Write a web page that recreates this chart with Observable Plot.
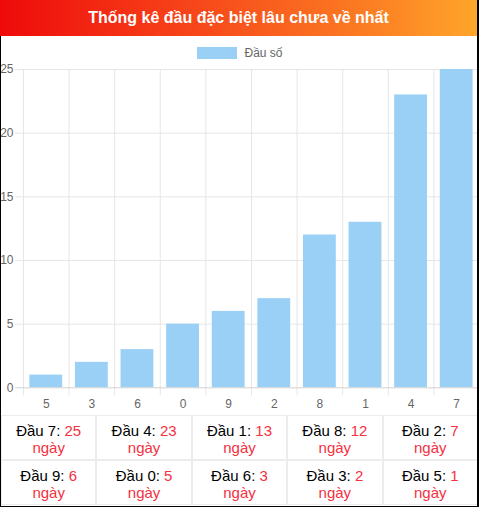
<!DOCTYPE html>
<html>
<head>
<meta charset="utf-8">
<script src="https://cdn.jsdelivr.net/npm/d3@7"></script>
<script src="https://cdn.jsdelivr.net/npm/@observablehq/plot@0.6"></script>
<style>
  body { margin: 0; font-family: "Liberation Sans", Arial, sans-serif; background: #fff; }
  #wrap { position: relative; width: 479px; height: 507px; overflow: hidden; }
  #head {
    width: 477px; height: 36px; line-height: 36px; text-align: center;
    color: #fff; font-weight: bold; font-size: 16px;
    background: linear-gradient(to right, #ee0a0a, #f7451a 40%, #fb7a22 75%, #ffa52a);
  }
  #rightbar { position: absolute; right: 0; top: 0; width: 2px; height: 507px; background: #000; z-index: 5; }
  #box { border-left: 1px solid #000; border-bottom: 1px solid #000; height: 470px; overflow: hidden; }
  #legend { height: 26px; display: flex; justify-content: center; align-items: flex-start; }
  #legend .sw { width: 40px; height: 12px; background: #9ad0f5; margin-top: 11px; margin-right: 7px; }
  #legend .lb { font-size: 12px; color: #666; margin-top: 10px; line-height: 14px; }
  #chart svg { display: block; }
  table { border-collapse: separate; border-spacing: 0; width: 477px; }
  td { border: 1px solid #ececec; text-align: center; font-size: 15px; line-height: 17px; height: 40px; padding: 3px 0 0 0; width: 95px; color: #000; }
  td .n, td .d { color: #f5303f; }
</style>
</head>
<body>
<div id="wrap">
  <div id="head">Thống kê đầu đặc biệt lâu chưa về nhất</div>
  <div id="rightbar"></div>
  <div id="box">
    <div id="legend"><div class="sw"></div><div class="lb">Đầu số</div></div>
    <div id="chart"></div>
    <table id="tbl"></table>
  </div>
</div>
<script>
const categories = ["5", "3", "6", "0", "9", "2", "8", "1", "4", "7"];
const days = [1, 2, 3, 5, 6, 7, 12, 13, 23, 25];
const yTicks = [0, 5, 10, 15, 20, 25];

const data = categories.map((c, i) => ({dau: c, days: days[i]}));

const step = 457 / categories.length;

const chart = Plot.plot({
  width: 479,
  height: 354,
  marginTop: 7,
  marginBottom: 28,
  marginLeft: 22,
  marginRight: 0,
  style: {fontFamily: "'Liberation Sans', Arial, sans-serif", fontSize: "12px", color: "#666", background: "transparent"},
  x: {domain: categories, paddingInner: 0.28, paddingOuter: 0.14, round: false, label: null},
  y: {domain: [0, 25], label: null},
  marks: [
    Plot.ruleY(yTicks.filter(v => v > 0), {stroke: "#e6e6e6", strokeOpacity: 1, insetLeft: -8}),
    Plot.ruleX(categories, {x: d => d, dx: -step / 2, stroke: "#e6e6e6", strokeOpacity: 1, insetBottom: -8}),
    Plot.barY(data, {x: "dau", y: "days", fill: "#9ad0f5"}),
    Plot.ruleY([0], {stroke: "#d2d2d2", strokeOpacity: 1, insetLeft: -8}),
    Plot.axisY({ticks: yTicks, tickSize: 0, tickPadding: 10, label: null}),
    Plot.axisX({tickSize: 0, tickPadding: 12, label: null})
  ]
});
d3.select('#chart').append(() => chart);

// bảng bên dưới: sắp xếp theo số ngày giảm dần
const sorted = data.slice().sort((a, b) => b.days - a.days);
const rows = [sorted.slice(0, 5), sorted.slice(5, 10)];
d3.select('#tbl').selectAll('tr').data(rows).join('tr')
  .selectAll('td').data(r => r).join('td')
  .html(d => `Đầu ${d.dau}: <span class="n">${d.days}</span><br><span class="d">ngày</span>`);
</script>
</body>
</html>
